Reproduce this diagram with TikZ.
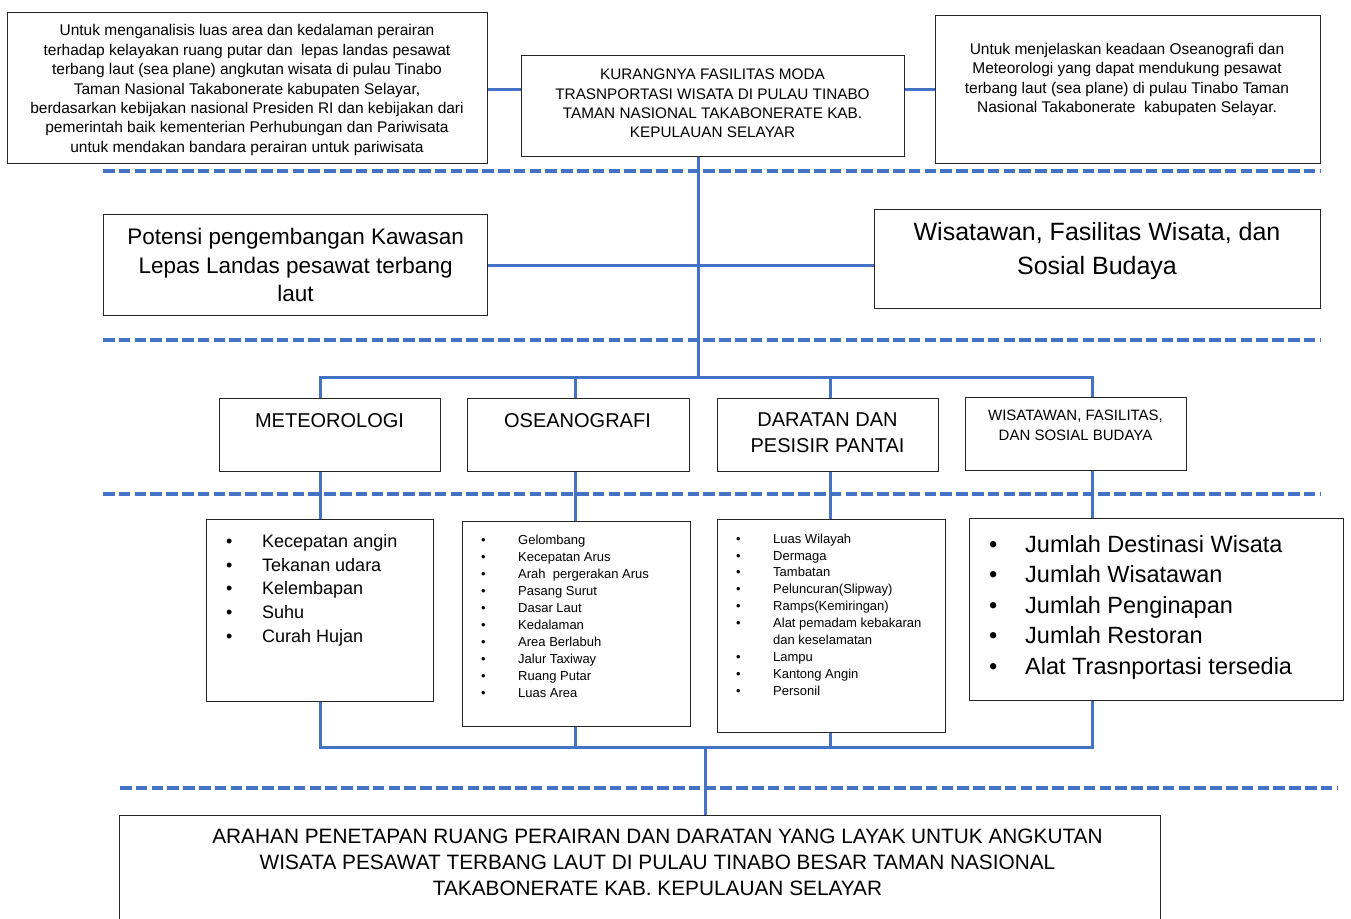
\documentclass[tikz,border=0pt]{standalone}
\usepackage{fontspec}
\setmainfont{Liberation Sans}
\definecolor{lineblue}{HTML}{4472C4}
\newcommand\lbul[1]{\makebox[#1][l]{\textbullet}}
\begin{document}
\begin{tikzpicture}[x=1pt,y=-1pt,
  box/.style={draw=black!85, line width=1.2pt, fill=white, inner sep=0pt, anchor=north west},
  conn/.style={draw=lineblue, line width=3pt, line join=miter},
  sepline/.style={draw=lineblue, line width=3.6pt, dash pattern=on 11.5pt off 4.3pt},
  txt/.style={inner sep=0pt, align=center, text=black},
  lst/.style={inner sep=0pt, align=left, anchor=north west, text=black}]
\useasboundingbox (0,0) rectangle (1351,918);
\clip (0,0) rectangle (1351,918);

% separators
\coordinate (s1a) at (103,171); \coordinate (s1b) at (1320,171);
\coordinate (s2a) at (103,340); \coordinate (s2b) at (1320,340);
\coordinate (s3a) at (103,494); \coordinate (s3b) at (1320,494);
\coordinate (s4a) at (120,788); \coordinate (s4b) at (1337,788);
\draw[sepline] (s1a) -- (s1b);
\draw[sepline] (s2a) -- (s2b);
\draw[sepline] (s3a) -- (s3b);
\draw[sepline] (s4a) -- (s4b);

% boxes
\node[box, minimum width=480pt, minimum height=151pt] (A) at (7,12) {};
\node[box, minimum width=383pt, minimum height=101pt] (B) at (521,55) {};
\node[box, minimum width=385pt, minimum height=148pt] (C) at (935,15) {};
\node[box, minimum width=384pt, minimum height=101pt, align=center,
      font=\fontsize{22.5}{28.5}\selectfont] (D) at (103,214)
 {Potensi pengembangan Kawasan\\ Lepas Landas pesawat terbang\\ laut};
\node[box, minimum width=446pt, minimum height=99pt] (E) at (874,209) {};
\node[box, minimum width=221pt, minimum height=73pt] (F) at (219,398) {};
\node[box, minimum width=222pt, minimum height=73pt] (G) at (467,398) {};
\node[box, minimum width=221pt, minimum height=73pt] (H) at (717,398) {};
\node[box, minimum width=221pt, minimum height=73pt] (I) at (965,397) {};
\node[box, minimum width=227pt, minimum height=182pt] (J) at (206,519) {};
\node[box, minimum width=228pt, minimum height=205pt] (K) at (462,521) {};
\node[box, minimum width=228pt, minimum height=213pt] (L) at (717,519) {};
\node[box, minimum width=374pt, minimum height=182pt] (M) at (969,518) {};
\node[box, minimum width=1041pt, minimum height=130pt] (N) at (119,815) {};

% connectors
\coordinate (t1) at (0,89);
\coordinate (t2) at (0,265);
\coordinate (v1) at (698,0);
\coordinate (bus1) at (0,377);
\coordinate (cF) at (320,377);
\coordinate (cG) at (575,377);
\coordinate (cH) at (830,377);
\coordinate (cI) at (1092,377);
\coordinate (bF) at (320,747);
\coordinate (bI) at (1092,747);
\coordinate (v2) at (705,747);
\draw[conn] (A.east |- t1) -- (B.west |- t1);
\draw[conn] (B.east |- t1) -- (C.west |- t1);
\draw[conn] (v1 |- B.south) -- (v1 |- bus1);
\draw[conn] (D.east |- t2) -- (E.west |- t2);
\draw[conn] (cF |- F.north) -- (cF) -- (cI) -- (cI |- I.north);
\draw[conn] (cG) -- (cG |- G.north);
\draw[conn] (cH) -- (cH |- H.north);
\draw[conn] (cF |- F.south) -- (cF |- J.north);
\draw[conn] (cG |- G.south) -- (cG |- K.north);
\draw[conn] (cH |- H.south) -- (cH |- L.north);
\draw[conn] (cI |- I.south) -- (cI |- M.north);
\draw[conn] (cF |- J.south) -- (bF) -- (bI) -- (cI |- M.south);
\draw[conn] (cG |- K.south) -- (cG |- bF);
\draw[conn] (cH |- L.south) -- (cH |- bF);
\draw[conn] (v2) -- (v2 |- N.north);

% texts
\node[txt, font=\fontsize{15.5}{19.4}\selectfont] (At) at (247,90)
 {Untuk menganalisis luas area dan kedalaman perairan\\
  terhadap kelayakan ruang putar dan\ \ lepas landas pesawat\\
  terbang laut (sea plane) angkutan wisata di pulau Tinabo\\
  Taman Nasional Takabonerate kabupaten Selayar,\\
  berdasarkan kebijakan nasional Presiden RI dan kebijakan dari\\
  pemerintah baik kementerian Perhubungan dan Pariwisata\\
  untuk mendakan bandara perairan untuk pariwisata};
\node[txt, font=\fontsize{15.3}{19.4}\selectfont] (Bt) at (712.5,103.5)
 {KURANGNYA FASILITAS MODA\\
  TRASNPORTASI WISATA DI PULAU TINABO\\
  TAMAN NASIONAL TAKABONERATE KAB.\\
  KEPULAUAN SELAYAR};
\node[txt, anchor=north, font=\fontsize{15.5}{19.4}\selectfont] (Ct) at (1127,43)
 {Untuk menjelaskan keadaan Oseanografi dan\\
  Meteorologi yang dapat mendukung pesawat\\
  terbang laut (sea plane) di pulau Tinabo Taman\\
  Nasional Takabonerate\ \ kabupaten Selayar.};
\node[txt, font=\fontsize{25}{34}\selectfont] (Et) at (1097,251)
 {Wisatawan, Fasilitas Wisata, dan\\ Sosial Budaya};
\node[txt, anchor=north, font=\fontsize{20}{26}\selectfont] (Ft) at (329.5,413) {METEOROLOGI};
\node[txt, anchor=north, font=\fontsize{20}{26}\selectfont] (Gt) at (577.5,413) {OSEANOGRAFI};
\node[txt, anchor=north, font=\fontsize{20}{26}\selectfont] (Ht) at (827.5,413) {DARATAN DAN\\ PESISIR PANTAI};
\node[txt, anchor=north, font=\fontsize{15}{20}\selectfont] (It) at (1075.5,409.5) {WISATAWAN, FASILITAS,\\ DAN SOSIAL BUDAYA};

\node[lst, font=\fontsize{18}{23.8}\selectfont] (Jt) at (226,534)
 {\lbul{36pt}Kecepatan angin\\
  \lbul{36pt}Tekanan udara\\
  \lbul{36pt}Kelembapan\\
  \lbul{36pt}Suhu\\
  \lbul{36pt}Curah Hujan};
\node[lst, font=\fontsize{13}{17}\selectfont] (Kt) at (481,534.5)
 {\lbul{37pt}Gelombang\\
  \lbul{37pt}Kecepatan Arus\\
  \lbul{37pt}Arah\ \ pergerakan Arus\\
  \lbul{37pt}Pasang Surut\\
  \lbul{37pt}Dasar Laut\\
  \lbul{37pt}Kedalaman\\
  \lbul{37pt}Area Berlabuh\\
  \lbul{37pt}Jalur Taxiway\\
  \lbul{37pt}Ruang Putar\\
  \lbul{37pt}Luas Area};
\node[lst, font=\fontsize{13}{16.9}\selectfont] (Lt) at (736,533.5)
 {\lbul{37pt}Luas Wilayah\\
  \lbul{37pt}Dermaga\\
  \lbul{37pt}Tambatan\\
  \lbul{37pt}Peluncuran(Slipway)\\
  \lbul{37pt}Ramps(Kemiringan)\\
  \lbul{37pt}Alat pemadam kebakaran\\
  \hspace*{37pt}dan keselamatan\\
  \lbul{37pt}Lampu\\
  \lbul{37pt}Kantong Angin\\
  \lbul{37pt}Personil};
\node[lst, font=\fontsize{23.5}{30.5}\selectfont] (Mt) at (989,535)
 {\lbul{36pt}Jumlah Destinasi Wisata\\
  \lbul{36pt}Jumlah Wisatawan\\
  \lbul{36pt}Jumlah Penginapan\\
  \lbul{36pt}Jumlah Restoran\\
  \lbul{36pt}Alat Trasnportasi tersedia};
\node[txt, font=\fontsize{20.8}{26}\selectfont] (Nt) at (657.5,862)
 {ARAHAN PENETAPAN RUANG PERAIRAN DAN DARATAN YANG LAYAK UNTUK ANGKUTAN\\
  WISATA PESAWAT TERBANG LAUT DI PULAU TINABO BESAR TAMAN NASIONAL\\
  TAKABONERATE KAB. KEPULAUAN SELAYAR};
\end{tikzpicture}
\end{document}
